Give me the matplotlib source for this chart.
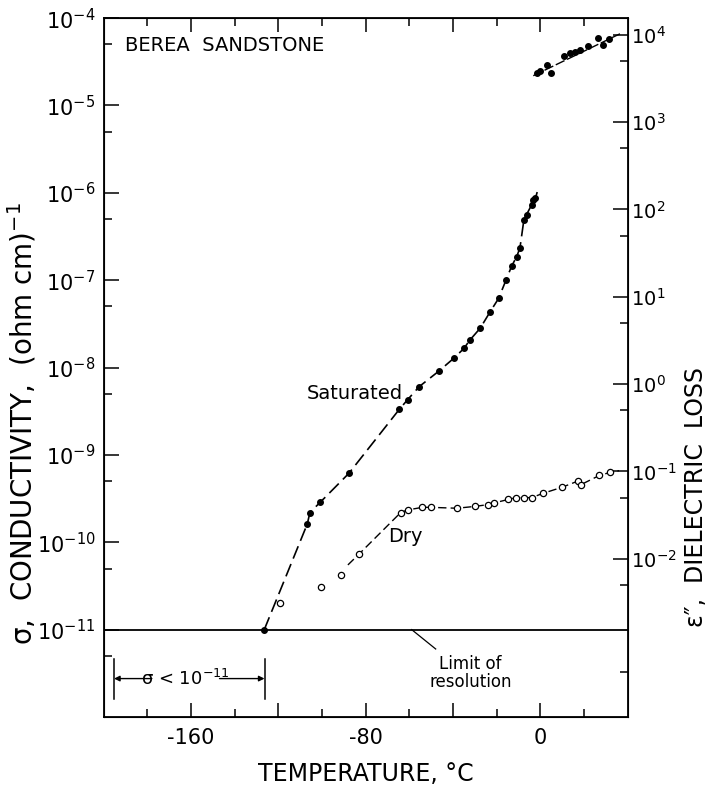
import numpy as np
import matplotlib
matplotlib.use("Agg")
import matplotlib.pyplot as plt
from matplotlib.ticker import FixedLocator, NullFormatter

# saturated sample, filled dots (temperature C, conductivity S/cm)
sat_T = [-126.5, -106.8, -105.6, -100.8, -87.7, -64.7, -60.9, -55.6, -46.5,
         -39.5, -35.0, -32.5, -27.6, -23.0, -19.2, -15.8, -13.2, -10.9, -9.4,
         -7.6, -6.4, -4.1, -3.3, -2.3]
sat_sigma = [1.0e-11, 1.62e-10, 2.19e-10, 2.88e-10, 6.17e-10, 3.31e-9, 4.27e-9,
             6.03e-9, 9.12e-9, 1.29e-8, 1.66e-8, 2.04e-8, 2.82e-8, 4.37e-8,
             6.17e-8, 1.0e-7, 1.45e-7, 1.86e-7, 2.34e-7, 4.90e-7, 5.62e-7,
             7.24e-7, 8.32e-7, 8.71e-7]
sat_line_T = sat_T + [-1.5]
sat_line_sigma = sat_sigma + [1.02e-6]

# dry sample, open circles
dry_T = [-119.5, -100.6, -91.5, -83.3, -64.0, -60.9, -54.1, -50.3, -38.2, -30.2,
         -24.2, -21.2, -14.7, -11.2, -7.6, -4.1, 1.2, 10.0, 17.1, 18.6, 27.0, 32.0]
dry_sigma = [2.04e-11, 3.09e-11, 4.17e-11, 7.24e-11, 2.19e-10, 2.34e-10, 2.51e-10,
             2.51e-10, 2.45e-10, 2.57e-10, 2.69e-10, 2.82e-10, 3.09e-10, 3.24e-10,
             3.24e-10, 3.24e-10, 3.63e-10, 4.27e-10, 5.01e-10, 4.57e-10, 5.82e-10,
             6.31e-10]
dry_line_T = [-88.2] + dry_T[3:] + [36.0]
dry_line_sigma = [5.5e-11] + dry_sigma[3:] + [6.6e-10]

# high temperature (thawed) points, filled dots
hot_T = [-1.8, -0.3, 3.2, 4.7, 11.0, 13.3, 15.6, 17.9, 21.7, 26.2, 28.5, 31.5]
hot_sigma = [2.34e-5, 2.45e-5, 2.88e-5, 2.34e-5, 3.72e-5, 3.98e-5, 4.07e-5,
             4.27e-5, 4.79e-5, 5.89e-5, 4.90e-5, 5.75e-5]
hot_line_T = [-3.3, 36.4]
hot_line_sigma = [2.19e-5, 6.61e-5]

limit_sigma = 1e-11

x_major = [-160, -120, -80, -40, 0]
x_labels = ["-160", "", "-80", "", "0"]
x_minor = [-180, -140, -100, -60, -20, 20]
left_exp = [-11, -10, -9, -8, -7, -6, -5, -4]
right_exp = [-2, -1, 0, 1, 2, 3, 4]
offset_dec = 8.19  # eps'' = sigma * 10**8.19

plt.rcParams["font.family"] = ["DejaVu Sans"]
plt.rcParams["mathtext.fontset"] = "dejavusans"

fig = plt.figure(figsize=(7.11, 7.87), dpi=100)
ax = fig.add_axes([0.146, 0.089, 0.737, 0.888])

ax.set_yscale("log")
ax.set_xlim(-200, 40)
ax.set_ylim(1e-12, 1e-4)

ax.plot(sat_line_T, sat_line_sigma, color="black", lw=1.2, dashes=(8, 3.5))
ax.plot(sat_T, sat_sigma, "o", color="black", ms=4)
ax.plot(dry_line_T, dry_line_sigma, color="black", lw=1.0, dashes=(6, 3))
ax.plot(dry_T, dry_sigma, "o", mfc="white", mec="black", mew=0.9, ms=4.5)
ax.plot(hot_line_T, hot_line_sigma, color="black", lw=1.0, dashes=(7, 2))
ax.plot(hot_T, hot_sigma, "o", color="black", ms=4)

ax.axhline(limit_sigma, color="black", lw=1.3)

# ticks
ax.xaxis.set_major_locator(FixedLocator(x_major))
ax.set_xticklabels(x_labels)
ax.xaxis.set_minor_locator(FixedLocator(x_minor))
ax.yaxis.set_major_locator(FixedLocator([10.0 ** e for e in left_exp]))
ax.set_yticklabels([rf"$10^{{{e}}}$" for e in left_exp])
ax.yaxis.set_minor_locator(FixedLocator([5 * 10.0 ** e for e in range(-12, -4)]))
ax.yaxis.set_minor_formatter(NullFormatter())
ax.tick_params(axis="x", which="major", direction="in", length=10, width=1.1,
               top=True, labelsize=15, pad=8)
ax.tick_params(axis="x", which="minor", direction="in", length=6, width=1.1, top=True)
ax.tick_params(axis="y", which="major", direction="in", length=11, width=1.1,
               labelsize=15, pad=6)
ax.tick_params(axis="y", which="minor", direction="in", length=6, width=1.1)
for s in ax.spines.values():
    s.set_linewidth(1.3)

ax2 = ax.twinx()
ax2.set_yscale("log")
ax2.set_ylim(10 ** (-12 + offset_dec), 10 ** (-4 + offset_dec))
ax2.yaxis.set_major_locator(FixedLocator([10.0 ** e for e in right_exp]))
ax2.set_yticklabels([rf"$10^{{{e}}}$" for e in right_exp])
ax2.yaxis.set_minor_locator(FixedLocator([5 * 10.0 ** e for e in range(-4, 4)]))
ax2.yaxis.set_minor_formatter(NullFormatter())
ax2.tick_params(axis="y", which="major", direction="in", length=11, width=1.1,
                labelsize=14, pad=2)
ax2.tick_params(axis="y", which="minor", direction="in", length=6, width=1.1)

ax.set_xlabel("TEMPERATURE, °C", fontsize=17, labelpad=10)
ax.set_ylabel("σ,  CONDUCTIVITY,  (ohm cm)$^{-1}$", fontsize=20, labelpad=4)
ax.yaxis.set_label_coords(-0.125, 0.42)
ax2.set_ylabel("ε″,  DIELECTRIC  LOSS", fontsize=17)
ax2.yaxis.set_label_coords(1.107, 0.315)

ax.text(0.04, 0.961, "BEREA  SANDSTONE", transform=ax.transAxes, fontsize=14,
        ha="left", va="center")
ax.text(-63, 5.1e-9, "Saturated", fontsize=14, ha="right", va="center")
ax.text(-70, 1.15e-10, "Dry", fontsize=14, ha="left", va="center")
ax.text(-32, 3.2e-12, "Limit of\nresolution", fontsize=12, ha="center",
        va="center", linespacing=1.0)
ax.plot([-59, -48], [1e-11, 6.0e-12], color="black", lw=0.9)

# sigma < 1e-11 range marker
ax.plot([-195.3, -195.3], [4.6e-12, 1.6e-12], color="black", lw=1.1)
ax.plot([-126.4, -126.4], [4.6e-12, 1.6e-12], color="black", lw=1.1)
ax.annotate("", xy=(-195.3, 2.75e-12), xytext=(-178, 2.75e-12),
            arrowprops=dict(arrowstyle="-|>", color="black", lw=1.0,
                            mutation_scale=8, shrinkA=0, shrinkB=0))
ax.annotate("", xy=(-126.4, 2.75e-12), xytext=(-147, 2.75e-12),
            arrowprops=dict(arrowstyle="-|>", color="black", lw=1.0,
                            mutation_scale=8, shrinkA=0, shrinkB=0))
ax.text(-162.5, 2.75e-12, "σ < $10^{-11}$", fontsize=13,
        ha="center", va="center")

fig.savefig("out.png", dpi=100)
